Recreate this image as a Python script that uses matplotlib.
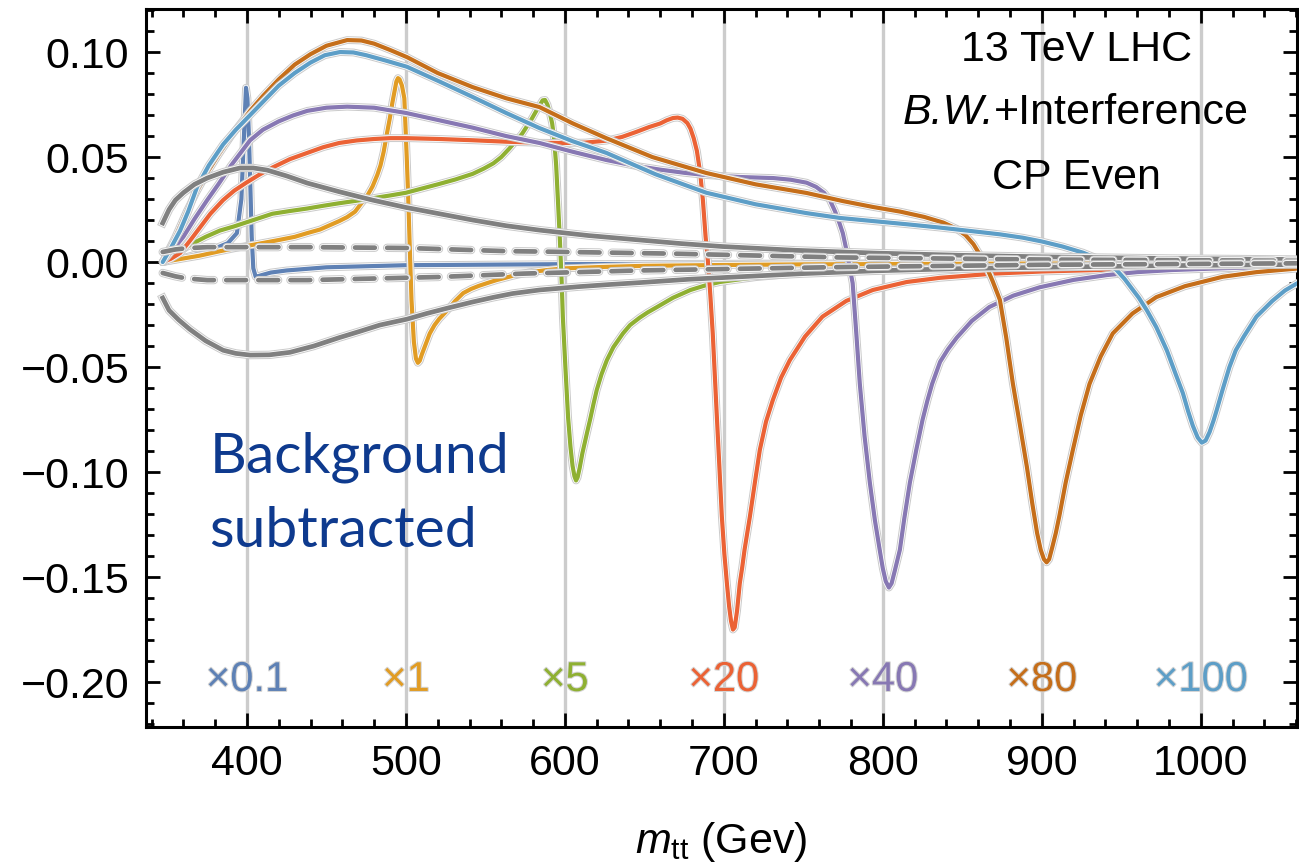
import matplotlib
matplotlib.use("Agg")
import matplotlib.pyplot as plt
import matplotlib.patheffects as pe
from matplotlib.ticker import MultipleLocator

plt.rcParams['font.family'] = ['Liberation Sans', 'DejaVu Sans']
plt.rcParams['mathtext.fontset'] = 'custom'
plt.rcParams['mathtext.rm'] = 'Liberation Sans'
plt.rcParams['mathtext.it'] = 'Liberation Sans:italic'

# ---- data (m_tt in GeV, background subtracted signal) ----
m400_x = [347, 360, 375, 388, 393.7, 396.5, 398, 399.4, 400.3, 401.2, 402, 403, 404, 405.5, 408, 415, 425, 450, 500, 600, 800, 1062]
m400_y = [0, 0.002, 0.005, 0.009, 0.0138, 0.030, 0.058, 0.083, 0.078, 0.061, 0.040, 0.012, -0.003, -0.007, -0.0065, -0.005, -0.004, -0.0025, -0.0015, -0.001, -0.0006, -0.0003]

m500_x = [347, 360, 370, 382, 395, 408, 420, 430, 438, 446, 452, 458, 463, 468, 472, 476, 479, 482, 484, 486, 488, 490, 491.5, 493, 494, 495, 496, 497.5, 499,
          500.5, 501.5, 502.5, 503.5, 505, 506.3, 507.5, 508.7, 510, 512.5, 515, 518, 521, 526, 531, 536, 541, 546, 552, 557, 567, 578, 590, 600, 625, 650, 700, 750, 900, 1062]
m500_y = [0, 0.0017, 0.003, 0.005, 0.007, 0.0088, 0.0105, 0.012, 0.0138, 0.0155, 0.0175, 0.0195, 0.0214, 0.024, 0.028, 0.032, 0.036, 0.0415, 0.046, 0.0525, 0.061, 0.069, 0.076, 0.082, 0.086, 0.0876, 0.087, 0.084, 0.078,
          0.050, 0.0295, 0.005, -0.018, -0.038, -0.046, -0.048, -0.047, -0.044, -0.039, -0.034, -0.030, -0.027, -0.023, -0.0185, -0.0148, -0.0128, -0.0113, -0.0098, -0.0086, -0.0066, -0.0048, -0.0037, -0.003, -0.0023, -0.0018, -0.0014, -0.0011, -0.0007, -0.0004]

m600_x = [347, 355, 365, 374, 383, 392, 400, 408, 416, 427, 438, 448, 458, 469, 480, 490, 500, 510, 520, 531, 542, 549, 555, 560, 565, 569, 573, 576, 579, 582, 584, 586, 587.5, 589, 590.5, 592, 593.3, 594.5, 595.6, 597, 598, 598.7,
          600.3, 602, 603.5, 604.8, 606, 607, 608, 609.3, 611, 612.5, 614, 616, 618, 620, 623, 626.4, 630.5, 636.5, 641, 647, 652, 658, 668, 679, 688, 697.5, 720, 750, 800, 850, 950, 1062]
m600_y = [0, 0.004, 0.0085, 0.012, 0.015, 0.017, 0.019, 0.021, 0.023, 0.0243, 0.0255, 0.0268, 0.028, 0.0292, 0.0305, 0.0317, 0.033, 0.035, 0.037, 0.0393, 0.042, 0.0445, 0.047, 0.050, 0.054, 0.0575, 0.061, 0.0645, 0.068, 0.072, 0.0745, 0.077, 0.0772, 0.075, 0.071, 0.066, 0.058, 0.046, 0.0295, 0.008, -0.010, -0.026,
          -0.050, -0.074, -0.088, -0.097, -0.102, -0.104, -0.1025, -0.098, -0.091, -0.086, -0.081, -0.0745, -0.0675, -0.061, -0.0535, -0.0467, -0.0405, -0.034, -0.030, -0.0265, -0.024, -0.0214, -0.017, -0.0133, -0.0112, -0.0095, -0.0072, -0.0052, -0.0036, -0.0026, -0.0016, -0.001]

m700_x = [347, 352, 358, 364, 370, 377, 385, 392, 400, 408, 416, 427, 438, 448, 458, 469, 480, 490, 500, 521, 542, 563, 584, 600, 613, 626, 636, 645, 653, 660, 664, 668, 671, 674, 677, 679, 681, 683, 685, 686.8, 688.5, 690,
          691.5, 693, 694.3, 695.6, 697.2, 698.7, 700.3, 701.9, 703.3, 704.5, 705.7, 706.8, 708.3, 710, 711.6, 713, 716.4, 719.5, 722.6, 726.5, 730.8, 736, 741.5, 751, 762, 777, 793.7, 815, 836, 870, 900, 950, 1000, 1062]
m700_y = [0, 0.0015, 0.0043, 0.010, 0.016, 0.023, 0.0295, 0.034, 0.038, 0.0417, 0.045, 0.049, 0.052, 0.0547, 0.0567, 0.0579, 0.0586, 0.059, 0.059, 0.0586, 0.058, 0.0573, 0.0568, 0.0567, 0.0569, 0.0578, 0.0596, 0.062, 0.0643, 0.066, 0.0675, 0.0686, 0.0688, 0.0682, 0.0662, 0.0635, 0.059, 0.053, 0.043, 0.0295, 0.012, 0.0,
          -0.016, -0.034, -0.054, -0.074, -0.098, -0.121, -0.139, -0.153, -0.164, -0.171, -0.175, -0.174, -0.166, -0.153, -0.145, -0.137, -0.121, -0.105, -0.0895, -0.076, -0.0657, -0.055, -0.0467, -0.0355, -0.026, -0.0185, -0.0133, -0.0095, -0.0075, -0.0055, -0.0045, -0.0035, -0.003, -0.0025]

m800_x = [347, 353, 360, 367, 375, 382, 390, 396, 402, 410, 420, 429, 438, 450, 463, 480, 500, 521, 542, 563, 584, 605, 626, 643, 660, 675, 689, 710, 731, 742, 752, 758, 763, 766.7, 770, 772.5, 774.8, 777, 779, 781,
          783.2, 785.5, 788.5, 791.8, 795, 798, 800, 801.8, 803.8, 805.5, 807.5, 810.7, 813.5, 817, 821, 825, 828, 831, 836, 841, 846.5, 856, 867, 882, 898.7, 920, 941, 960, 982, 1020, 1062]
m800_y = [0, 0.0055, 0.012, 0.0205, 0.0295, 0.037, 0.046, 0.052, 0.058, 0.063, 0.067, 0.0698, 0.072, 0.0735, 0.074, 0.0735, 0.071, 0.0675, 0.064, 0.060, 0.0567, 0.0525, 0.0486, 0.046, 0.044, 0.0425, 0.0414, 0.0405, 0.040, 0.0392, 0.0378, 0.0358, 0.0330, 0.0295, 0.024, 0.019, 0.0138, 0.006, -0.002, -0.010,
          -0.033, -0.058, -0.083, -0.105, -0.123, -0.137, -0.146, -0.152, -0.155, -0.153, -0.147, -0.137, -0.122, -0.105, -0.0895, -0.075, -0.066, -0.058, -0.0475, -0.0415, -0.036, -0.028, -0.0214, -0.016, -0.012, -0.0085, -0.0062, -0.0048, -0.0038, -0.0028, -0.0022]

m900_x = [347, 355, 362, 368, 374.8, 382, 390, 396, 402, 410, 420, 430, 440, 450, 463, 472, 480, 490, 500.6, 520, 542, 563, 584, 605, 626, 655, 689, 720, 752, 775, 794, 811, 826, 838, 846, 852, 857, 861, 865, 869,
          873.6, 877.6, 881.8, 886.3, 890.6, 894, 897, 899.3, 901.3, 903, 904.6, 906.5, 908.8, 911, 915, 919.5, 924.5, 930, 937, 944.6, 957, 972, 990, 1013.8, 1035, 1062]
m900_y = [0, 0.012, 0.024, 0.033, 0.0424, 0.051, 0.060, 0.066, 0.072, 0.079, 0.087, 0.094, 0.099, 0.103, 0.1057, 0.1055, 0.104, 0.101, 0.0976, 0.090, 0.0833, 0.078, 0.0738, 0.066, 0.059, 0.050, 0.0424, 0.037, 0.0329, 0.029, 0.0262, 0.0240, 0.0215, 0.0188, 0.0160, 0.0128, 0.0085, 0.0035, -0.002, -0.009,
          -0.018, -0.036, -0.058, -0.078, -0.0976, -0.115, -0.129, -0.137, -0.1415, -0.143, -0.1415, -0.136, -0.129, -0.121, -0.105, -0.0895, -0.073, -0.058, -0.045, -0.034, -0.0245, -0.0167, -0.0115, -0.007, -0.0048, -0.003]

m1000_x = [347, 352, 358, 363, 368.6, 376, 385, 393, 402, 411, 420, 430, 440, 449, 458.5, 467, 475, 487, 500.6, 521, 542, 563, 584, 605, 626, 657, 689, 720, 752, 773, 794, 815, 836, 855, 873.6, 888, 900, 913, 925.8, 934, 940,
           947, 952, 956, 961, 966, 972, 978.6, 984, 988.7, 992, 995, 998, 1000.6, 1003, 1005.5, 1008, 1010, 1014, 1018, 1022, 1027, 1035, 1045, 1053, 1062]
m1000_y = [0, 0.0065, 0.015, 0.024, 0.0357, 0.046, 0.056, 0.063, 0.070, 0.077, 0.084, 0.090, 0.095, 0.0985, 0.100, 0.0998, 0.0985, 0.096, 0.093, 0.086, 0.0786, 0.071, 0.0638, 0.0575, 0.052, 0.0418, 0.033, 0.0275, 0.0233, 0.021, 0.0195, 0.018, 0.0164, 0.0148, 0.0132, 0.0116, 0.0098, 0.0074, 0.0045, 0.0020, 0.0,
           -0.0038, -0.008, -0.012, -0.017, -0.0229, -0.031, -0.042, -0.053, -0.0624, -0.071, -0.078, -0.0835, -0.086, -0.085, -0.081, -0.0755, -0.0705, -0.060, -0.050, -0.042, -0.0355, -0.026, -0.0185, -0.0135, -0.0095]

bkg_up_x = [347, 351, 355, 360, 367, 375, 385, 395.6, 404, 412.6, 425, 438, 458, 479, 500, 521, 542, 563, 584, 615, 647, 673, 699, 745, 794, 850, 900, 980, 1062]
bkg_up_y = [0.0186, 0.025, 0.0295, 0.033, 0.037, 0.040, 0.0428, 0.0448, 0.0448, 0.0438, 0.041, 0.0376, 0.0335, 0.0295, 0.026, 0.023, 0.020, 0.0173, 0.0152, 0.0126, 0.0105, 0.0088, 0.0074, 0.0056, 0.0043, 0.0032, 0.0025, 0.0017, 0.0012]
bkg_dn_x = [347, 351, 357, 364, 374, 385, 393, 402, 414, 427, 442, 458, 471, 483.6, 500.6, 513, 525.8, 542, 555, 567, 584, 609, 628, 647, 678, 710, 750, 794, 850, 900, 980, 1062]
bkg_dn_y = [-0.0171, -0.023, -0.0275, -0.032, -0.0375, -0.042, -0.0435, -0.0443, -0.0442, -0.043, -0.040, -0.036, -0.033, -0.030, -0.0272, -0.0245, -0.022, -0.019, -0.0168, -0.0150, -0.0133, -0.0117, -0.0107, -0.0098, -0.0082, -0.007, -0.0055, -0.0042, -0.0031, -0.0025, -0.0017, -0.0012]

err_up_x = [347, 355, 362, 375, 438, 500, 563, 584, 668, 773, 900, 1062]
err_up_y = [0.0048, 0.006, 0.0066, 0.0071, 0.0071, 0.0067, 0.0052, 0.0050, 0.0040, 0.0022, 0.0012, 0.0006]
err_dn_x = [347, 355, 362, 375, 438, 521, 574, 647, 773, 900, 1062]
err_dn_y = [-0.0052, -0.0068, -0.0078, -0.0086, -0.0086, -0.0071, -0.0055, -0.0040, -0.0024, -0.0013, -0.0006]

masses = [400, 500, 600, 700, 800, 900, 1000]
scale_labels = ['×0.1', '×1', '×5', '×20', '×40', '×80', '×100']
colors = ['#5E81B5', '#E19C24', '#8FB032', '#EB6235', '#8778B3', '#C56E1A', '#5D9EC7']
gray = '#808080'

curves = [(m400_x, m400_y), (m500_x, m500_y), (m600_x, m600_y), (m700_x, m700_y),
          (m800_x, m800_y), (m900_x, m900_y), (m1000_x, m1000_y)]


def halo(lw):
    return [pe.Stroke(linewidth=lw + 2.6, foreground='#cacaca'),
            pe.Stroke(linewidth=lw + 1.2, foreground='white'),
            pe.Normal()]


fig = plt.figure(figsize=(12.99, 8.68), dpi=100)
ax = fig.add_axes([146 / 1299, 1 - 727 / 868, 1151 / 1299, 718 / 868])

lw = 3.0
for (xs, ys), c in zip(curves, colors):
    ax.plot(xs, ys, color=c, lw=lw, solid_capstyle='round', solid_joinstyle='round',
            path_effects=halo(lw), zorder=3)

ax.plot(bkg_up_x, bkg_up_y, color=gray, lw=3.4, solid_joinstyle='round', path_effects=halo(3.4), zorder=4)
ax.plot(bkg_dn_x, bkg_dn_y, color=gray, lw=3.4, solid_joinstyle='round', path_effects=halo(3.4), zorder=4)
for xs, ys in [(err_up_x, err_up_y), (err_dn_x, err_dn_y)]:
    ax.plot(xs, ys, color=gray, lw=3.4, dashes=(4.2, 2.6), dash_capstyle='round',
            path_effects=halo(3.4), zorder=4)

ax.set_xlim(336.5, 1060.5)
ax.set_ylim(-0.2214, 0.1205)

ax.xaxis.set_major_locator(MultipleLocator(100))
ax.xaxis.set_minor_locator(MultipleLocator(20))
ax.yaxis.set_major_locator(MultipleLocator(0.05))
ax.yaxis.set_minor_locator(MultipleLocator(0.01))
ax.yaxis.set_major_formatter(lambda v, p: f'{v:.2f}'.replace('-', '\u2212'))
ax.tick_params(which='both', direction='in', top=True, right=True, width=2, color='black')
ax.tick_params(which='major', length=10, labelsize=31, pad=12)
ax.tick_params(which='minor', length=6)
ax.grid(True, axis='x', which='major', color='#cccccc', lw=2.4, zorder=1)
for s in ax.spines.values():
    s.set_linewidth(2.2)

for m, lab, c in zip(masses, scale_labels, colors):
    ax.text(m, -0.199, lab, color=c, fontsize=30, ha='center', va='center', zorder=6,
            path_effects=[pe.withStroke(linewidth=1.5, foreground='#d5d5d5')])

ax.text(922, 0.101, '13 TeV LHC', fontsize=31, ha='center', va='center', zorder=6)
ax.text(870, 0.071, 'B.W.', fontsize=31, style='italic', ha='right', va='center', zorder=6)
ax.text(870, 0.071, '+Interference', fontsize=31, ha='left', va='center', zorder=6)
ax.text(922, 0.040, 'CP Even', fontsize=31, ha='center', va='center', zorder=6)

ax.text(376.5, -0.100, 'Background', fontsize=41, family='Lato', color='#0E3A8E', va='baseline', zorder=6)
ax.text(376.5, -0.1357, 'subtracted', fontsize=41, family='Lato', color='#0E3A8E', va='baseline', zorder=6)

ax.set_xlabel(r'$m_{\rm tt}$ (Gev)', fontsize=31, labelpad=26)

fig.savefig('out.png', dpi=100)
